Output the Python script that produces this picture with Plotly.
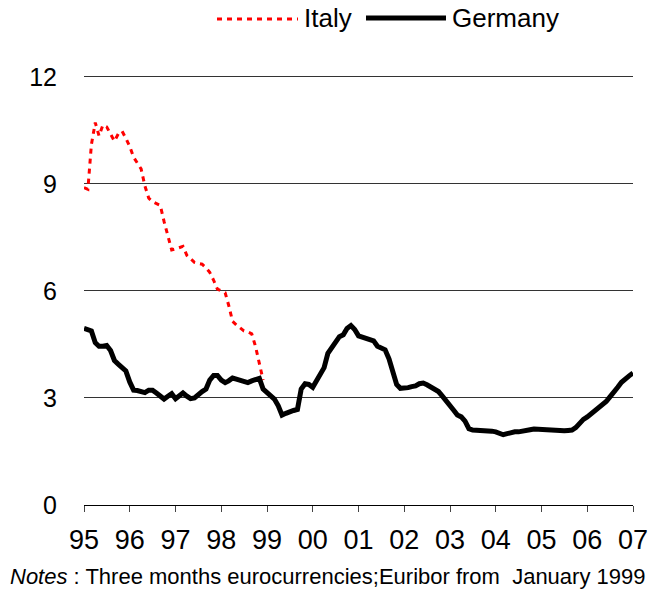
import pandas as pd
import plotly.graph_objects as go

# monthly 3-month rates, Jan 1995 onward
italy_start = "1995-01-01"
italy = [8.9, 8.85, 10.1, 10.72, 10.35, 10.65, 10.6, 10.4, 10.2, 10.4, 10.48, 10.28,
         10.05, 9.75, 9.6, 9.42, 8.95, 8.6, 8.5, 8.45, 8.4, 7.95, 7.5, 7.15,
         7.18, 7.22, 7.25, 7.0, 6.9, 6.8, 6.77, 6.75, 6.65, 6.52, 6.3, 6.05,
         6.0, 5.95, 5.6, 5.15, 5.05, 4.95, 4.88, 4.85, 4.8, 4.45, 4.0, 3.5]

germany_start = "1995-01-01"
germany = [4.95, 4.93, 4.88, 4.55, 4.45, 4.45, 4.47, 4.33, 4.05, 3.95, 3.87, 3.76,
           3.45, 3.22, 3.21, 3.18, 3.15, 3.22, 3.22, 3.14, 3.05, 2.97, 3.05, 3.12,
           2.98, 3.05, 3.14, 3.05, 2.98, 3.0, 3.1, 3.18, 3.25, 3.5, 3.63, 3.63,
           3.5, 3.43, 3.48, 3.56, 3.53, 3.5, 3.47, 3.43, 3.48, 3.53, 3.55, 3.25,
           3.15, 3.03, 2.97, 2.78, 2.52, 2.57, 2.62, 2.65, 2.68, 3.25, 3.4, 3.38,
           3.3, 3.5, 3.7, 3.85, 4.25, 4.4, 4.55, 4.72, 4.77, 4.95, 5.03, 4.92,
           4.74, 4.7, 4.67, 4.62, 4.6, 4.45, 4.4, 4.35, 4.1, 3.7, 3.38, 3.27,
           3.27, 3.29, 3.32, 3.34, 3.4, 3.42, 3.37, 3.3, 3.24, 3.18, 3.05, 2.9,
           2.78, 2.65, 2.52, 2.47, 2.35, 2.14, 2.1, 2.1, 2.1, 2.1, 2.1, 2.07,
           2.05, 2.0, 1.97, 2.0, 2.03, 2.05, 2.05, 2.06, 2.08, 2.11, 2.13, 2.12,
           2.11, 2.11, 2.1, 2.09, 2.07, 2.06, 2.08, 2.09, 2.1, 2.17, 2.3, 2.4,
           2.47, 2.55, 2.65, 2.74, 2.82, 2.9, 3.03, 3.15, 3.3, 3.44, 3.55, 3.62,
           3.7]

y_ticks = [0, 3, 6, 9, 12]
note_text = "<i>Notes</i> : Three months eurocurrencies;Euribor from  January 1999"

italy_dates = pd.date_range(italy_start, periods=len(italy), freq="MS")
germany_dates = pd.date_range(germany_start, periods=len(germany), freq="MS")

FONT = "Liberation Sans, Arial, sans-serif"
W, H = 650, 597
L, R, T, B = 84, 17, 73, 92
pw, ph = W - L - R, H - T - B


def px(x):
    return (x - L) / pw


def py(y):
    return 1 + (T - y) / ph


fig = go.Figure()
fig.add_trace(go.Scatter(x=italy_dates, y=italy, mode="lines", name="Italy",
                         line=dict(color="#ff0000", width=3, dash="5px,5px")))
fig.add_trace(go.Scatter(x=germany_dates, y=germany, mode="lines", name="Germany",
                         line=dict(color="black", width=5)))

# legend drawn by hand (long sample lines)
fig.add_shape(type="line", xref="paper", yref="paper",
              x0=px(217), x1=px(298), y0=py(19), y1=py(19),
              line=dict(color="#ff0000", width=3, dash="5px,5px"))
fig.add_shape(type="line", xref="paper", yref="paper",
              x0=px(366), x1=px(446), y0=py(18), y1=py(18),
              line=dict(color="black", width=5))
fig.add_annotation(text="Italy", xref="paper", yref="paper", x=px(302), y=py(18),
                   xanchor="left", yanchor="middle", showarrow=False,
                   font=dict(size=26, color="black", family=FONT))
fig.add_annotation(text="Germany", xref="paper", yref="paper", x=px(450), y=py(18),
                   xanchor="left", yanchor="middle", showarrow=False,
                   font=dict(size=26, color="black", family=FONT))

fig.add_annotation(text=note_text, xref="paper", yref="paper", x=px(8), y=py(576),
                   xanchor="left", yanchor="middle", showarrow=False,
                   font=dict(size=22, color="black", family=FONT))

fig.update_layout(
    width=W, height=H,
    margin=dict(l=L, r=R, t=T, b=B),
    plot_bgcolor="white", paper_bgcolor="white",
    showlegend=False,
    font=dict(family=FONT, color="black"),
    xaxis=dict(
        type="date", automargin=False,
        range=["1995-01-01", "2007-01-01"],
        dtick="M12", tick0="1995-01-01", tickformat="%y",
        showgrid=False, showline=True, linecolor="black", linewidth=1,
        ticks="outside", ticklen=6, tickcolor="#444", tickwidth=1,
        tickfont=dict(size=27), ticklabelstandoff=5,
    ),
    yaxis=dict(
        automargin=False,
        range=[0, 12.11], tickvals=y_ticks,
        showgrid=True, gridcolor="#333", gridwidth=1,
        zeroline=False, showline=False, ticks="",
        tickfont=dict(size=25), ticklabelstandoff=26,
    ),
)

# page body margin would shift the fixed-size figure
fig.write_html("out.html", config={"displayModeBar": False},
               post_script="document.body.style.margin='0';")
